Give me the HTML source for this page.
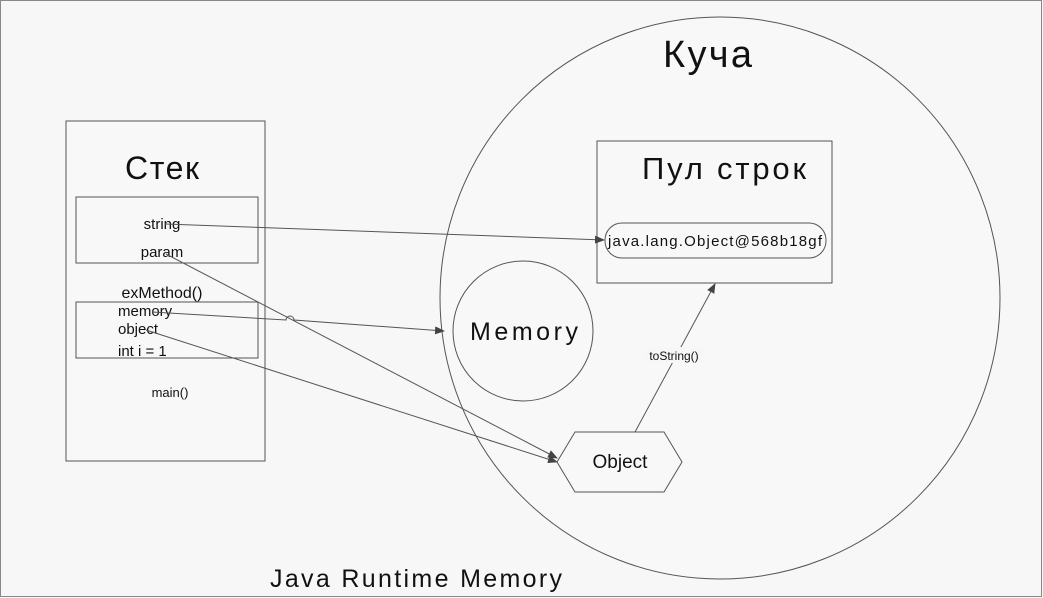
<!DOCTYPE html>
<html><head><meta charset="utf-8"><style>
body{margin:0;width:1043px;height:598px;overflow:hidden;background:#f7f7f7;}
svg{display:block}
text{font-family:"Liberation Sans",sans-serif;fill:#111}
</style></head><body>
<svg width="1043" height="598" viewBox="0 0 1043 598">
<defs><marker id="a" markerWidth="10" markerHeight="8" refX="9" refY="4" orient="auto" markerUnits="userSpaceOnUse"><path d="M0,0 L10,4 L0,8 z" fill="#444"/></marker></defs>
<rect x="0.5" y="0.5" width="1041" height="596" fill="#f7f7f7" stroke="#888"/>
<ellipse cx="720" cy="298" rx="280" ry="281" fill="#f8f8f8" stroke="#555"/>
<text x="663" y="67" font-size="38" textLength="89">Куча</text>
<rect x="66" y="121" width="199" height="340" fill="#f8f8f8" stroke="#555"/>
<text x="125" y="179" font-size="32" textLength="74">Стек</text>
<rect x="76" y="197" width="182" height="66" fill="#f8f8f8" stroke="#555"/>
<text x="162" y="229" font-size="15" text-anchor="middle">string</text>
<text x="162" y="257" font-size="15" text-anchor="middle">param</text>
<text x="162" y="298" font-size="16" text-anchor="middle">exMethod()</text>
<rect x="76" y="302" width="182" height="56" fill="#f8f8f8" stroke="#555"/>
<text x="118" y="316" font-size="15">memory</text>
<text x="118" y="334" font-size="15">object</text>
<text x="118" y="356" font-size="15">int i = 1</text>
<text x="170" y="397" font-size="13" text-anchor="middle">main()</text>
<rect x="597" y="141" width="235" height="142" fill="#f8f8f8" stroke="#555"/>
<text x="642" y="179" font-size="31" textLength="164">Пул строк</text>
<rect x="605" y="223" width="221" height="35" rx="17" fill="#f8f8f8" stroke="#555"/>
<text x="608" y="246" font-size="15" textLength="214">java.lang.Object@568b18gf</text>
<circle cx="523" cy="331" r="70" fill="#f8f8f8" stroke="#555"/>
<text x="470" y="340" font-size="25" textLength="108">Memory</text>
<polygon points="557,462 575,432 664,432 682,462 664,492 575,492" fill="#f8f8f8" stroke="#555"/>
<text x="620" y="468" font-size="19" text-anchor="middle">Object</text>
<g stroke="#555" fill="none" stroke-width="1">
<line x1="165" y1="224" x2="604" y2="240" marker-end="url(#a)"/>
<line x1="166" y1="254" x2="557" y2="458" marker-end="url(#a)"/>
<path d="M152,312 L286,320 A4,4 0 0 1 294,320 L444,331" marker-end="url(#a)"/>
<line x1="146" y1="330" x2="557" y2="462" marker-end="url(#a)"/>
<line x1="635" y1="432" x2="715" y2="284" marker-end="url(#a)"/>
</g>
<rect x="643" y="347" width="62" height="16" fill="#f7f7f7"/>
<text x="674" y="360" font-size="12" text-anchor="middle">toString()</text>
<text x="270" y="587" font-size="25" textLength="292">Java Runtime Memory</text>
</svg>
</body></html>
